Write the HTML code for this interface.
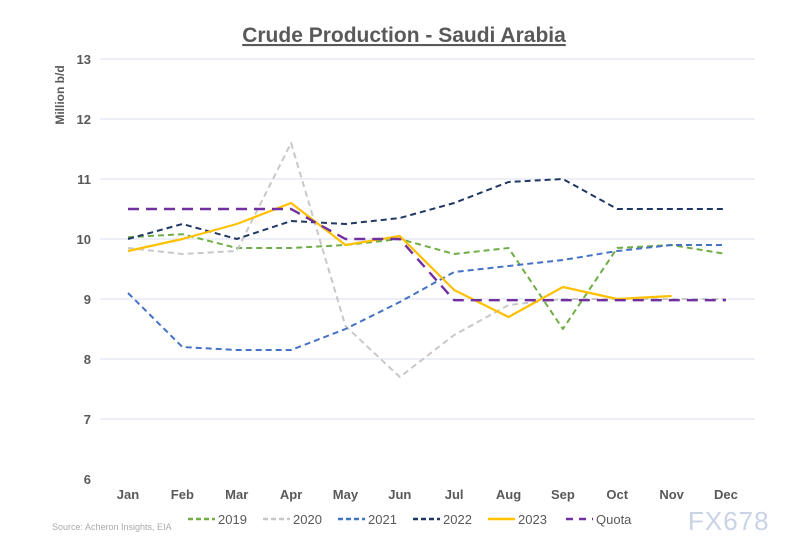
<!DOCTYPE html>
<html><head><meta charset="utf-8"><style>
body{margin:0;background:#fff;font-family:"Liberation Sans",Arial,sans-serif;}
svg text{font-family:"Liberation Sans",Arial,sans-serif;}
</style></head><body>
<svg id="c" width="800" height="545" xmlns="http://www.w3.org/2000/svg">
<text x="404" y="42" text-anchor="middle" font-size="21" font-weight="bold" fill="#595959" text-decoration="underline">Crude Production - Saudi Arabia</text>
<text transform="translate(64,95) rotate(-90)" text-anchor="middle" font-size="12" font-weight="bold" fill="#595959">Million b/d</text>
<g id="grid"></g><g id="lines"></g><g id="legend"></g>
<text x="52" y="530" font-size="9" fill="#aaa">Source: Acheron Insights, EIA</text>
<text x="688" y="530" font-size="26" fill="#c9d3e6" letter-spacing="1">FX678</text>
</svg>
<script>
const months=["Jan","Feb","Mar","Apr","May","Jun","Jul","Aug","Sep","Oct","Nov","Dec"];
const yTicks=[6,7,8,9,10,11,12,13];
const s2019=[10.03,10.08,9.85,9.85,9.9,10.0,9.75,9.85,8.5,9.85,9.9,9.75];
const s2020=[9.85,9.75,9.8,11.6,8.55,7.7,8.4,8.9,9.0,9.0,9.0,9.0];
const s2021=[9.1,8.2,8.15,8.15,8.5,8.95,9.45,9.55,9.65,9.8,9.9,9.9];
const s2022=[10.0,10.25,10.0,10.3,10.25,10.35,10.6,10.95,11.0,10.5,10.5,10.5];
const s2023=[9.8,10.0,10.25,10.6,9.9,10.05,9.15,8.7,9.2,9.0,9.05];
const quota=[10.5,10.5,10.5,10.5,10.0,10.0,8.98,8.98,8.98,8.98,8.98,8.98];
const names=["2019","2020","2021","2022","2023","Quota"];
const NS="http://www.w3.org/2000/svg";
const x=i=>128+i*54.36, y=v=>239-(v-10)*60;
function mk(t,a,p){const e=document.createElementNS(NS,t);for(const k in a)e.setAttribute(k,a[k]);p.appendChild(e);return e;}
const grid=document.getElementById('grid');
yTicks.forEach(v=>{
  if(v>6){const l=mk('line',{x1:100,x2:755,y1:y(v),y2:y(v),stroke:'#d9dff0','stroke-width':1},grid);
  
  }
  const t=mk('text',{x:91,y:y(v)+5,'text-anchor':'end','font-size':13,'font-weight':'bold',fill:'#595959'},grid);t.textContent=v;
  
  
});
months.forEach((m,i)=>{const t=mk('text',{x:x(i),y:499,'text-anchor':'middle','font-size':13,'font-weight':'bold',fill:'#595959'},grid);t.textContent=m;
  
  });
const series=[s2019,s2020,s2021,s2022,s2023,quota];
const cols=["#70ad47","#c8c8c8","#4472c4","#203864","#ffc000","#7030a0"];
const dash=["6,4","6,4","6,4","6,4","none","11,7"];
const wid=[2,2,2,2,2.2,2.4];
const lg=document.getElementById('lines');
series.forEach((s,k)=>{
  const p=mk('polyline',{points:s.map((v,i)=>x(i)+','+y(v)).join(' '),fill:'none',stroke:cols[k],'stroke-width':wid[k],'stroke-dasharray':dash[k],'stroke-linejoin':'round'},lg);
  
  
});
const leg=document.getElementById('legend');
const lx=[188,263,338,413,488,566];
names.forEach((n,k)=>{
  const g=mk('g',{},leg);
  
  
  mk('line',{x1:lx[k],x2:lx[k]+27,y1:519,y2:519,stroke:cols[k],'stroke-width':2.4,'stroke-dasharray':k==5?'7,6':(k==4?'none':'5,3')},g);
  const t=mk('text',{x:lx[k]+30,y:524,'font-size':13,fill:'#595959'},g);t.textContent=n;
});
</script>
</body></html>
